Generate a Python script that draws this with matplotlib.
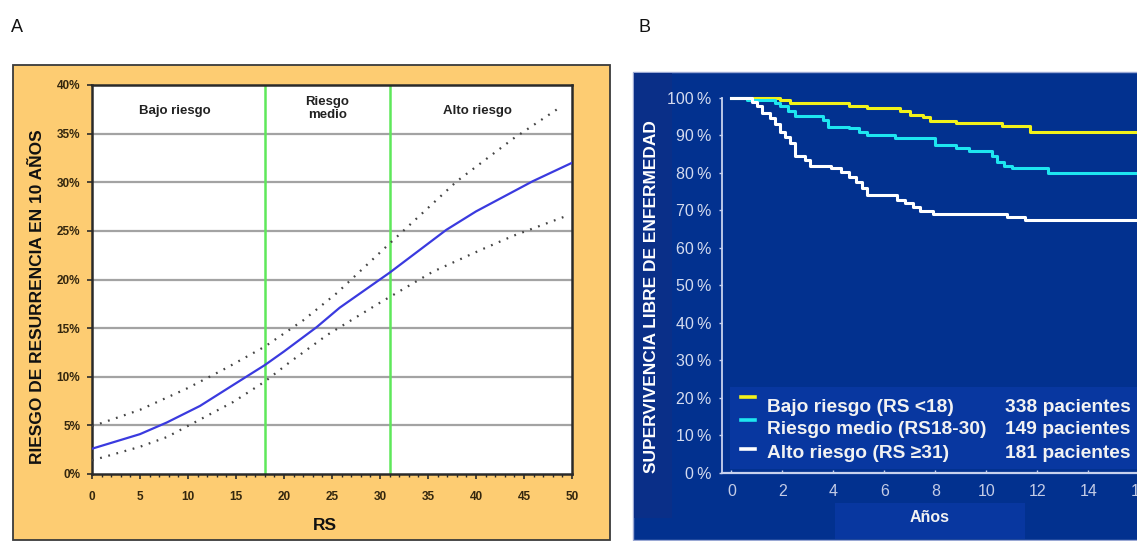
import matplotlib
matplotlib.use("Agg")
import matplotlib.pyplot as plt
from matplotlib.patches import Rectangle
from matplotlib.lines import Line2D

plt.rcParams['font.family'] = ['Liberation Sans', 'DejaVu Sans']

# ---------------- Panel A data ----------------
rs_mid = [0, 5, 7.8, 11.25, 14.7, 18, 20, 23.4, 25.8, 31, 36.9, 40, 45.9, 50]
risk_mid = [2.6, 4.1, 5.3, 7.0, 9.15, 11.2, 12.6, 15.1, 17.1, 20.7, 25.1, 27.0, 30.1, 32.0]
rs_up = [0, 5, 9.9, 14, 18, 22, 25.5, 31, 38, 43.9, 48.9]
risk_up = [4.9, 6.6, 8.8, 10.9, 13.1, 15.8, 18.6, 23.7, 30.1, 34.5, 37.8]
rs_lo = [0, 5, 7.8, 11.25, 14.7, 18, 20.6, 24.5, 29.8, 35.5, 40.4, 43.9, 49.6]
risk_lo = [1.4, 2.8, 3.8, 5.6, 7.4, 9.5, 11.5, 14.3, 17.5, 20.8, 23.0, 24.5, 26.6]
cutoffs = [18, 31]
region_labels = ["Bajo riesgo", "Riesgo\nmedio", "Alto riesgo"]
region_x = [8.6, 24.5, 40.2]
a_yticks = [0, 5, 10, 15, 20, 25, 30, 35, 40]
a_xticks = [0, 5, 10, 15, 20, 25, 30, 35, 40, 45, 50]

# ---------------- Panel B data ----------------
t_low = [0, 1.9, 2.3, 4.6, 5.3, 6.6, 7.0, 7.5, 7.8, 8.8, 10.6, 11.7, 16.6]
s_low = [100, 99.5, 98.7, 97.9, 97.2, 96.4, 95.5, 94.8, 93.9, 93.2, 92.6, 91.0, 91.0]
t_mid = [0, 0.6, 1.7, 1.9, 2.2, 2.5, 3.6, 3.8, 4.6, 5.0, 5.3, 6.4, 8.0, 8.8, 9.3, 10.2, 10.4, 10.7, 11.0, 12.4, 16.6]
s_mid = [100, 99.5, 98.5, 97.7, 96.5, 95.2, 94.0, 92.3, 91.9, 91.0, 90.1, 89.3, 87.5, 86.6, 85.7, 84.4, 83.0, 81.9, 81.2, 79.9, 79.9]
t_high = [0, 0.8, 1.0, 1.2, 1.5, 1.7, 1.9, 2.1, 2.3, 2.5, 2.9, 3.1, 3.9, 4.3, 4.6, 4.9, 5.1, 5.3, 6.5, 6.8, 7.1, 7.4, 7.9, 10.8, 11.5, 16.6]
s_high = [100, 98.8, 97.7, 96.0, 94.6, 93.0, 91.0, 89.5, 87.9, 84.4, 83.5, 81.9, 81.2, 80.3, 79.0, 77.5, 76.0, 74.1, 72.8, 72.0, 71.0, 69.7, 69.1, 68.2, 67.5, 67.5]
b_labels = ["Bajo riesgo (RS <18)", "Riesgo medio (RS18-30)", "Alto riesgo (RS \u226531)"]
b_counts = ["338 pacientes", "149 pacientes", "181 pacientes"]
b_colors = ["#f2f21a", "#1ee6f0", "#ffffff"]
b_yticks = [0, 10, 20, 30, 40, 50, 60, 70, 80, 90, 100]
b_xticks = [0, 2, 4, 6, 8, 10, 12, 14, 16]

W, H = 1137, 541
fig = plt.figure(figsize=(W / 100, H / 100), dpi=100)
fig.patch.set_facecolor("white")


def fx(px):
    return px / W


def fy(py):
    return 1 - py / H


def frect(x0, y0, x1, y1, **kw):
    r = Rectangle((fx(x0), fy(y1)), fx(x1) - fx(x0), fy(y0) - fy(y1),
                  transform=fig.transFigure, **kw)
    fig.add_artist(r)
    return r


# ---------------- Panel A ----------------
frect(13, 65, 610, 540, facecolor="#fdcc72", edgecolor="#3a3a3a", lw=1.3, zorder=-5)
axA = fig.add_axes([fx(92), fy(474), fx(572) - fx(92), fy(85) - fy(474)])
axA.set_facecolor("white")
axA.set_xlim(0, 50)
axA.set_ylim(0, 40)
for y in a_yticks[1:-1]:
    axA.axhline(y, color="#a3a3a3", lw=1.6, zorder=1)
for c in cutoffs:
    axA.axvline(c, color="#5ee85a", lw=1.8, zorder=2)
axA.plot(rs_up, risk_up, color="#444444", lw=1.6, linestyle=(0, (0.8, 3.0)), zorder=3)
axA.plot(rs_lo, risk_lo, color="#444444", lw=1.6, linestyle=(0, (0.8, 3.0)), zorder=3)
axA.plot(rs_mid, risk_mid, color="#3a3adf", lw=1.6, zorder=4)
for lab, xx in zip(region_labels, region_x):
    axA.text(xx, 37.3 if "\n" not in lab else 37.6, lab, ha="center", va="center",
             fontsize=9.5, fontweight="bold", color="#222222", linespacing=1.15)
for s in axA.spines.values():
    s.set_color("#2a2a2a")
    s.set_linewidth(1.8)
axA.set_yticks(a_yticks)
axA.set_yticklabels([f"{v}%" for v in a_yticks])
axA.set_xticks(a_xticks)
axA.set_xticks(range(0, 51), minor=True)
axA.tick_params(axis="both", which="major", direction="out", length=3.5, width=1.2,
                color="#2a2a2a", labelsize=8.5, labelcolor="#33260e", pad=5)
axA.tick_params(axis="x", which="major", pad=9)
axA.tick_params(axis="x", which="minor", direction="out", length=2, width=1.0, color="#2a2a2a")
for lbl in axA.get_xticklabels() + axA.get_yticklabels():
    lbl.set_fontweight("bold")
fig.text(fx(38), fy(297), "RIESGO DE RESURRENCIA EN 10 AÑOS", rotation=90,
         ha="center", va="center", fontsize=12.5, fontweight="bold", color="#111111")
fig.text(fx(325), fy(526), "RS", ha="center", va="center", fontsize=12.5,
         fontweight="bold", color="#111111")
fig.text(fx(17), fy(27), "A", ha="center", va="center", fontsize=13, color="#111111")

# ---------------- Panel B ----------------
frect(633, 72, 1145, 540, facecolor="#02318f", edgecolor="#9aa8d4", lw=1.0, zorder=-5)
frect(634, 73, 672, 518, facecolor="#0a2f88", edgecolor="none", zorder=-4)
frect(835, 503, 1025, 539, facecolor="#0837a0", edgecolor="none", zorder=-4)
frect(730, 387, 1145, 469, facecolor="#0837a0", edgecolor="none", zorder=-4)

axB = fig.add_axes([fx(722), fy(472.7), fx(1150) - fx(722), fy(96) - fy(472.7)])
axB.patch.set_alpha(0)
axB.set_xlim(-0.37, (1150 - 731.5) / 25.5)
axB.set_ylim(0, 100.5)
for t, s, c in [(t_low, s_low, b_colors[0]), (t_mid, s_mid, b_colors[1]), (t_high, s_high, b_colors[2])]:
    axB.plot(t, s, drawstyle="steps-post", color=c, lw=2.2, clip_on=False, zorder=3)
for side in ["top", "right"]:
    axB.spines[side].set_visible(False)
axB.spines["left"].set_color("#c8d2ee")
axB.spines["bottom"].set_color("#c8d2ee")
axB.spines["left"].set_linewidth(1.3)
axB.spines["bottom"].set_linewidth(1.6)
axB.spines["left"].set_bounds(0, 100)
axB.set_yticks(b_yticks)
axB.set_yticklabels([f"{v}\u2009%" for v in b_yticks])
axB.set_xticks(b_xticks)
axB.tick_params(axis="y", direction="out", length=2.5, width=1, color="#c8d2ee",
                labelsize=11.5, labelcolor="#d4dbef", pad=5)
axB.tick_params(axis="x", direction="in", length=2.5, width=1, color="#c8d2ee",
                labelsize=11.5, labelcolor="#c4cce6", pad=8)

# legend (drawn manually)
leg_y = [407, 430, 454]
mark_y = [397, 420, 449]
for lab, cnt, col, ly, my in zip(b_labels, b_counts, b_colors, leg_y, mark_y):
    fig.add_artist(Line2D([fx(741), fx(755)], [fy(my), fy(my)], color=col, lw=2.6,
                          transform=fig.transFigure))
    fig.text(fx(767), fy(ly), lab, ha="left", va="center", fontsize=13.8,
             fontweight="bold", color="#f2f2f2")
    fig.text(fx(1005), fy(ly), cnt, ha="left", va="center", fontsize=13.8,
             fontweight="bold", color="#f2f2f2")

fig.text(fx(652), fy(297), "SUPERVIVENCIA LIBRE DE ENFERMEDAD", rotation=90,
         ha="center", va="center", fontsize=12.5, fontweight="bold", color="#ffffff")
fig.text(fx(930), fy(518), "Años", ha="center", va="center", fontsize=11.5,
         fontweight="bold", color="#f2f2f2")
fig.text(fx(645), fy(27), "B", ha="center", va="center", fontsize=13, color="#111111")

fig.savefig("out.png", dpi=100)
